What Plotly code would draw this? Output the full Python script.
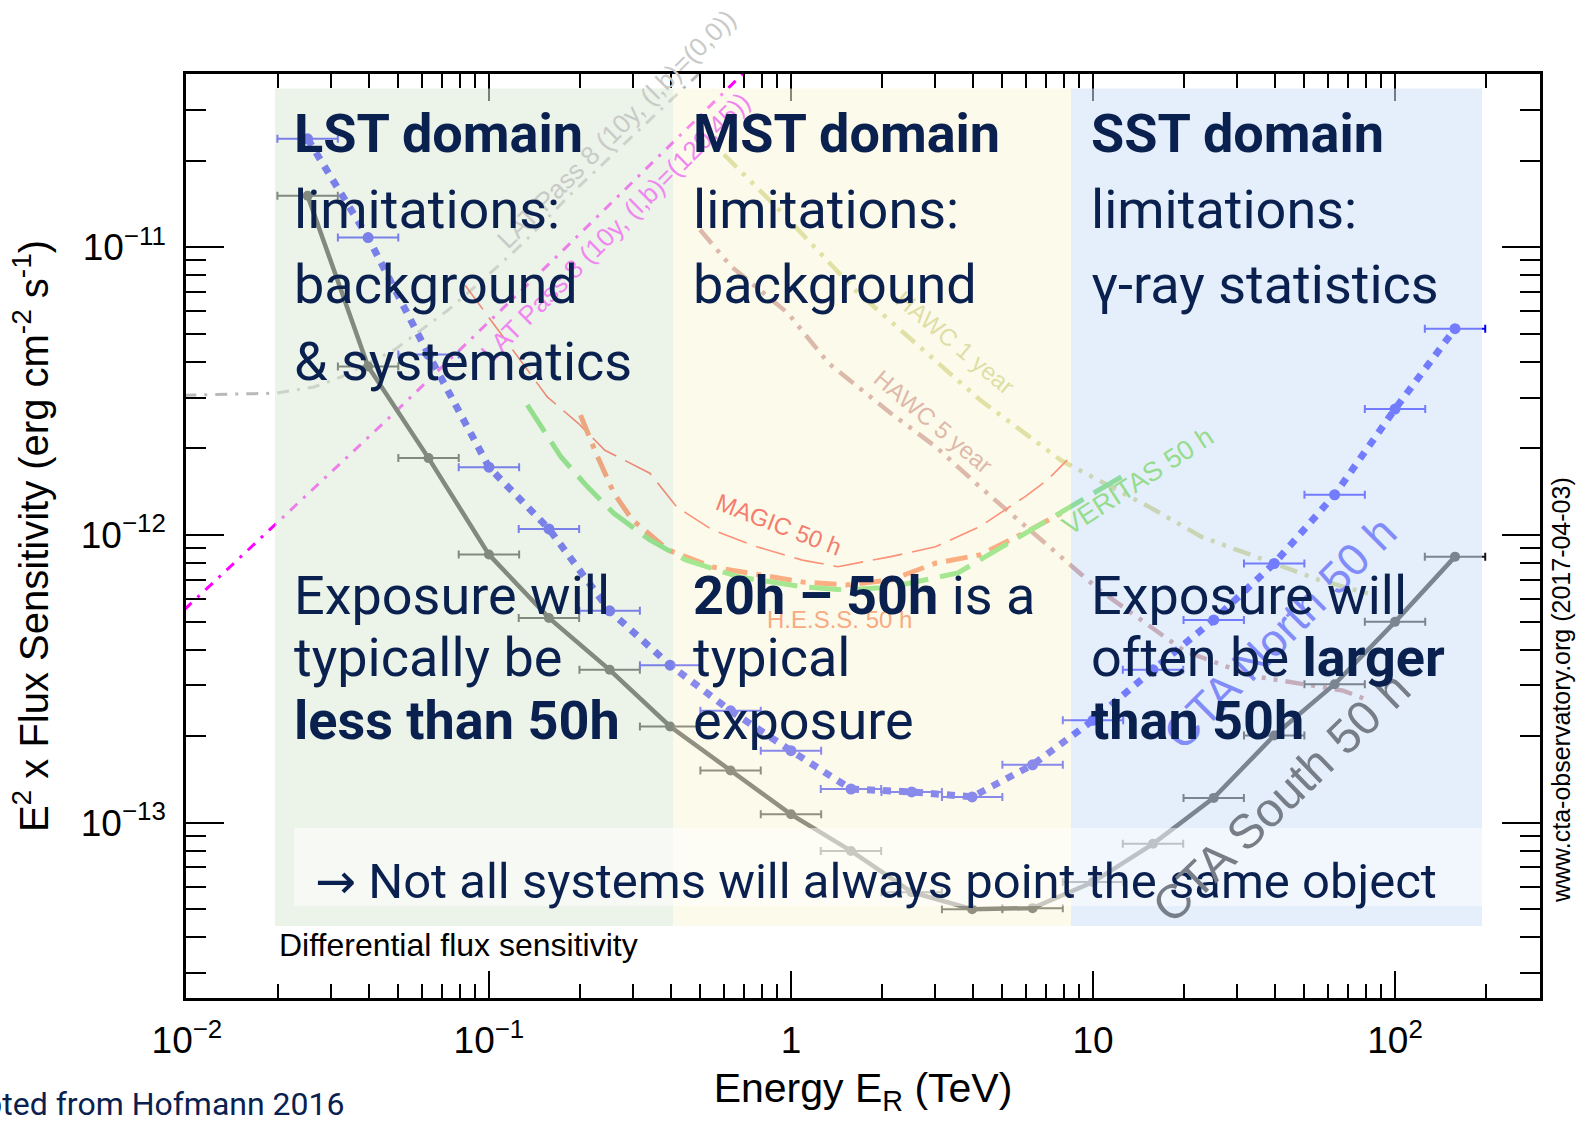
import math
import plotly.graph_objects as go

# ---------------- data ----------------
# CTA bin centres (TeV), five bins per decade
energy_tev = [0.0251, 0.0398, 0.0631, 0.100, 0.158, 0.251, 0.398, 0.631, 1.00, 1.58,
              2.51, 3.98, 6.31, 10.0, 15.8, 25.1, 39.8, 63.1, 100.0, 158.0]
cta_south_50h = [1.51e-11, 3.85e-12, 1.85e-12, 8.55e-13, 5.15e-13, 3.40e-13, 2.16e-13,
                 1.52e-13, 1.07e-13, 7.98e-14, 5.74e-14, 5.01e-14, 5.05e-14, 6.22e-14,
                 8.45e-14, 1.22e-13, 2.01e-13, 3.03e-13, 4.99e-13, 8.41e-13]
cta_north_50h = [2.38e-11, 1.08e-11, 4.24e-12, 1.72e-12, 1.05e-12, 5.45e-13, 3.53e-13,
                 2.45e-13, 1.78e-13, 1.31e-13, 1.28e-13, 1.23e-13, 1.59e-13, 2.27e-13,
                 3.40e-13, 5.07e-13, 7.96e-13, 1.38e-12, 2.74e-12, 5.21e-12]

magic_e = [0.0834, 0.107, 0.156, 0.198, 0.242, 0.341, 0.419, 0.550, 0.771, 1.09,
           1.43, 2.14, 3.01, 4.22, 5.96, 7.05, 8.21]
magic_s = [7.38e-12, 5.16e-12, 3.02e-12, 2.44e-12, 1.97e-12, 1.64e-12, 1.25e-12,
           1.04e-12, 9.10e-13, 8.18e-13, 7.76e-13, 8.41e-13, 9.10e-13, 1.07e-12,
           1.36e-12, 1.55e-12, 1.82e-12]

hess_e = [0.201, 0.226, 0.259, 0.298, 0.392, 0.550, 1.09, 1.52, 2.14, 3.02, 4.22, 5.96, 7.84]
hess_s = [2.61e-12, 1.93e-12, 1.40e-12, 1.13e-12, 8.87e-13, 7.74e-13, 6.87e-13,
          6.70e-13, 6.98e-13, 7.99e-13, 8.53e-13, 1.02e-12, 1.19e-12]

veritas_e = [0.134, 0.173, 0.212, 0.259, 0.341, 0.448, 0.673, 1.09, 1.52, 2.14,
             3.57, 4.22, 5.96, 8.37, 12.5]
veritas_s = [2.83e-12, 1.87e-12, 1.47e-12, 1.19e-12, 9.61e-13, 8.19e-13, 7.15e-13,
             6.61e-13, 6.44e-13, 6.59e-13, 7.38e-13, 8.19e-13, 1.02e-12, 1.25e-12, 1.60e-12]

hawc1_e = [0.60, 0.94, 1.63, 4.24, 7.82, 15.6, 22.9, 33.6, 56.0, 82.6]
hawc1_s = [2.1e-11, 1.31e-11, 7.1e-12, 2.94e-12, 1.82e-12, 1.24e-12, 9.85e-13,
           8.53e-13, 6.98e-13, 6.24e-13]

hawc5_e = [0.50, 0.632, 0.977, 1.33, 2.14, 3.01, 4.22, 5.96, 7.82, 10.5, 20.1, 33.6, 67.3, 82.6]
hawc5_s = [1.15e-11, 8.6e-12, 5.90e-12, 3.96e-12, 2.65e-12, 2.03e-12, 1.47e-12,
           1.07e-12, 8.41e-13, 6.44e-13, 3.95e-13, 3.24e-13, 2.88e-13, 2.65e-13]

lat_gc_e = [0.0098, 0.0197, 0.0264, 0.0324, 0.0485, 0.0731, 0.0977, 0.1306, 0.1854,
            0.2655, 0.3975, 0.519]
lat_gc_s = [3.06e-12, 3.11e-12, 3.27e-12, 3.54e-12, 4.39e-12, 6.04e-12, 7.87e-12,
            1.04e-11, 1.52e-11, 2.17e-11, 3.24e-11, 4.19e-11]

lat_hl_e = [0.0098, 0.0197, 0.0485, 0.172, 0.673, 0.789]
lat_hl_s = [5.5e-13, 1.09e-12, 2.65e-12, 9.53e-12, 3.89e-11, 4.53e-11]

x_tick_vals = [0.01, 0.1, 1, 10, 100]
x_tick_text = ["10<sup>−2</sup>", "10<sup>−1</sup>", "1", "10", "10<sup>2</sup>"]
y_tick_vals = [1e-13, 1e-12, 1e-11]
y_tick_text = ["10<sup>−13</sup>", "10<sup>−12</sup>", "10<sup>−11</sup>"]

# ---------------- styling ----------------
NAVY = "#0a2150"
CHART_FONT = "Liberation Sans, Arial, sans-serif"
SLIDE_FONT = "Roboto, sans-serif"

W, H = 1578, 1124
PLOT_L, PLOT_R, PLOT_T, PLOT_B = 186, 1540, 74, 998


def xp(px):
    return (px - PLOT_L) / (PLOT_R - PLOT_L)


def yp(py):
    return (PLOT_B - py) / (PLOT_B - PLOT_T)


fig = go.Figure()


def add_curve(x, y, color, width, dash):
    fig.add_trace(go.Scatter(x=x, y=y, mode="lines", hoverinfo="skip",
                             line=dict(color=color, width=width, dash=dash)))


add_curve(lat_gc_e, lat_gc_s, "rgb(185,185,185)", 3, "12px,8px,3px,8px")
add_curve(lat_hl_e, lat_hl_s, "rgb(255,0,255)", 3, "10px,8px,3px,8px")
add_curve(hawc1_e, hawc1_s, "rgb(196,198,100)", 4.5, "18px,8px,4px,8px,4px,8px")
add_curve(hawc5_e, hawc5_s, "rgb(184,109,111)", 4.5, "18px,8px,4px,8px,4px,8px")
add_curve(magic_e, magic_s, "rgb(255,20,0)", 1.6, "30px,10px")
add_curve(hess_e, hess_s, "rgb(255,85,25)", 5, "22px,9px,5px,9px")
add_curve(veritas_e, veritas_s, "rgb(60,210,55)", 5, "32px,12px")

err_hi = [e * (10 ** 0.1 - 1) for e in energy_tev]
err_lo = [e * (1 - 10 ** -0.1) for e in energy_tev]

fig.add_trace(go.Scatter(
    x=energy_tev, y=cta_south_50h, mode="lines+markers", hoverinfo="skip",
    line=dict(color="#151515", width=4.5),
    marker=dict(size=10, color="#151515"),
    error_x=dict(type="data", symmetric=False, array=err_hi, arrayminus=err_lo,
                 color="#151515", thickness=2, width=4)))
fig.add_trace(go.Scatter(
    x=energy_tev, y=cta_north_50h, mode="lines+markers", hoverinfo="skip",
    line=dict(color="#0000ff", width=7, dash="8px,8px"),
    marker=dict(size=11, color="#0000ff"),
    error_x=dict(type="data", symmetric=False, array=err_hi, arrayminus=err_lo,
                 color="#0000ff", thickness=2, width=4)))

# translucent domain panels laid over the chart
panels = [(275, 673, "rgba(220,233,213,0.55)"),
          (673, 1071, "rgba(249,247,218,0.55)"),
          (1071, 1482, "rgba(207,225,249,0.55)")]
for x0, x1, col in panels:
    fig.add_shape(type="rect", xref="paper", yref="paper", x0=xp(x0), x1=xp(x1),
                  y0=yp(926), y1=yp(88.6), fillcolor=col, line_width=0, layer="above")
fig.add_shape(type="rect", xref="paper", yref="paper", x0=xp(294), x1=xp(1482),
              y0=yp(906), y1=yp(828), fillcolor="rgba(255,255,255,0.5)",
              line_width=0, layer="above")


def chart_label(text, e, s, angle, color, size):
    fig.add_annotation(xref="x", yref="y", x=math.log10(e), y=math.log10(s), text=text,
                       textangle=angle, showarrow=False, xanchor="center", yanchor="middle",
                       font=dict(family=CHART_FONT, size=size, color=color))


chart_label("LAT Pass 8 (10y, (l,b)=(0,0))", 0.264, 2.58e-11, -45, "rgb(200,202,200)", 26)
chart_label("LAT Pass 8 (10y, (l,b)=(120,45))", 0.262, 1.18e-11, -45, "rgb(240,135,240)", 26)
chart_label("MAGIC 50 h", 0.912, 1.09e-12, 21, "rgb(245,125,110)", 24)
chart_label("H.E.S.S. 50 h", 1.45, 5.1e-13, 0, "rgb(248,170,130)", 24)
chart_label("VERITAS 50 h", 14.1, 1.54e-12, -33, "rgb(150,220,140)", 27)
chart_label("HAWC 1 year", 3.49, 4.65e-12, 40, "rgb(222,222,165)", 24)
chart_label("HAWC 5 year", 2.95, 2.47e-12, 40, "rgb(222,185,170)", 24)
chart_label("CTA North 50 h", 41.6, 4.6e-13, -45, "rgb(130,140,248)", 45)
chart_label("CTA South 50 h", 42.0, 1.22e-13, -44, "rgb(120,126,135)", 48)

fig.add_annotation(xref="paper", yref="paper", x=xp(277), y=yp(956 - 0.35 * 32),
                   xanchor="left", yanchor="middle", showarrow=False,
                   text="Differential flux sensitivity",
                   font=dict(family=CHART_FONT, size=32, color="black"))
fig.add_annotation(xref="paper", yref="paper", x=xp(1561), y=yp(690),
                   xanchor="center", yanchor="middle", textangle=-90, showarrow=False,
                   text="www.cta-observatory.org (2017-04-03)",
                   font=dict(family=CHART_FONT, size=25, color="black"))


def slide_text(text, px_left, baseline, size=54, family=SLIDE_FONT):
    fig.add_annotation(xref="paper", yref="paper", x=xp(px_left - 3),
                       y=yp(baseline - 0.342 * size), xanchor="left", yanchor="middle",
                       text=text, showarrow=False,
                       font=dict(family=family, size=size, color=NAVY))


rows_top = [152, 228, 303, 380]
rows_low = [614, 676, 739]

lst_top = ["<b>LST domain</b>", "limitations:", "background", "&amp; systematics"]
mst_top = ["<b>MST domain</b>", "limitations:", "background"]
sst_top = ["<b>SST domain</b>", "limitations:", "γ-ray statistics"]
lst_low = ["Exposure will", "typically be", "<b>less than 50h</b>"]
mst_low = ["<b>20h – 50h</b> is a", "typical", "exposure"]
sst_low = ["Exposure will", "often be <b>larger</b>", "<b>than 50h</b>"]

for left, top_lines, low_lines in [(295, lst_top, lst_low), (694, mst_top, mst_low),
                                   (1092, sst_top, sst_low)]:
    for txt, base in zip(top_lines, rows_top):
        slide_text(txt, left, base)
    for txt, base in zip(low_lines, rows_low):
        slide_text(txt, left, base)

fig.add_annotation(xref="paper", yref="paper", x=xp(347), y=yp(1115 - 0.342 * 32),
                   xanchor="right", yanchor="middle", showarrow=False,
                   text="Adapted from Hofmann 2016",
                   font=dict(family=SLIDE_FONT, size=32, color=NAVY))

# closing remark on the white banner, set as the figure title; the anchor
# point is placed so the line sits in the middle of the banner
BANNER_SIZE = 49
BANNER_ANCHOR = 898
banner_title = dict(
    text="<span style='font-family:DejaVu Sans'>→</span> Not all systems will always "
         "point the same object",
    x=xp(315), xref="paper", xanchor="left",
    y=yp(BANNER_ANCHOR - 0.35 * BANNER_SIZE), yref="paper", yanchor="middle",
    font=dict(family=SLIDE_FONT, size=BANNER_SIZE, color=NAVY))

minor_x = [k * 10.0 ** d for d in range(-2, 3) for k in range(2, 10) if k * 10.0 ** d < 300]
minor_y = [k * 10.0 ** d for d in range(-14, -10) for k in range(2, 10)]

axis_common = dict(type="log", showline=True, linewidth=2.5, linecolor="black",
                   mirror="ticks", ticks="inside", tickwidth=2, tickcolor="black",
                   showgrid=False, zeroline=False,
                   tickfont=dict(family=CHART_FONT, size=37, color="black"))

fig.update_layout(
    title=banner_title,
    width=W, height=H,
    margin=dict(l=PLOT_L, r=W - PLOT_R, t=PLOT_T, b=H - PLOT_B, autoexpand=False),
    paper_bgcolor="white", plot_bgcolor="white", showlegend=False,
    font=dict(family=CHART_FONT, color="black"),
    xaxis=dict(axis_common, range=[-2.003, 2.48], ticklen=27,
               tickvals=x_tick_vals, ticktext=x_tick_text, ticklabelstandoff=8,
               minor=dict(tickmode="array", tickvals=minor_x, ticks="inside", ticklen=14,
                          tickwidth=2, tickcolor="black", showgrid=False),
               title=dict(text="Energy E<sub>R</sub> (TeV)", standoff=14,
                          font=dict(family=CHART_FONT, size=41, color="black"))),
    yaxis=dict(axis_common, range=[-13.609, -10.398], ticklen=38,
               tickvals=y_tick_vals, ticktext=y_tick_text, ticklabelstandoff=10,
               minor=dict(tickmode="array", tickvals=minor_y, ticks="inside", ticklen=20,
                          tickwidth=2, tickcolor="black", showgrid=False),
               title=dict(text="E<sup>2</sup> x Flux Sensitivity (erg cm<sup>-2</sup> s<sup>-1</sup>)",
                          standoff=20,
                          font=dict(family=CHART_FONT, size=40, color="black"))),
)

fig.write_html("out.html")
